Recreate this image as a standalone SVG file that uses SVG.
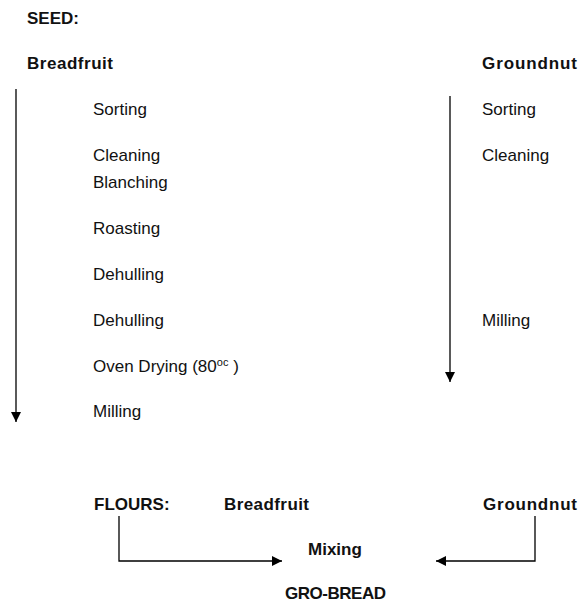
<svg xmlns="http://www.w3.org/2000/svg" width="588" height="602" viewBox="0 0 588 602">
<defs>
<marker id="ah" viewBox="0 0 10 10" refX="10" refY="5" markerWidth="10" markerHeight="10" markerUnits="userSpaceOnUse" orient="auto">
<path d="M0,0 L10,5 L0,10 Z" fill="#000"/>
</marker>
<style>
text{font-family:"Liberation Sans",Arial,sans-serif;font-size:17px;fill:#111}
.b{font-weight:bold}
.ln{stroke:#000;stroke-width:1.3;fill:none}
</style>
</defs>
<rect width="588" height="602" fill="#fff"/>
<g id="headers">
<text class="b" x="27" y="24">SEED:</text>
<text class="b" x="27" y="69" textLength="86">Breadfruit</text>
<text class="b" x="482" y="69" textLength="95">Groundnut</text>
</g>
<g id="breadfruit-steps">
<text x="93" y="115">Sorting</text>
<text x="93" y="161">Cleaning</text>
<text x="93" y="188">Blanching</text>
<text x="93" y="234">Roasting</text>
<text x="93" y="280">Dehulling</text>
<text x="93" y="326">Dehulling</text>
<text x="93" y="372">Oven Drying (80<tspan font-size="11" dy="-6">oc</tspan><tspan dy="6"> )</tspan></text>
<text x="93" y="417">Milling</text>
</g>
<g id="groundnut-steps">
<text x="482" y="115">Sorting</text>
<text x="482" y="161">Cleaning</text>
<text x="482" y="326">Milling</text>
</g>
<g id="flours">
<text class="b" x="94" y="510">FLOURS:</text>
<text class="b" x="224" y="510" textLength="85">Breadfruit</text>
<text class="b" x="483" y="510" textLength="94">Groundnut</text>
</g>
<g id="mixing"><text class="b" x="308" y="555">Mixing</text></g>
<g id="grobread"><text class="b" x="285" y="599" textLength="101">GRO-BREAD</text></g>
<g id="connectors">
<line class="ln" x1="16" y1="89" x2="16" y2="422" marker-end="url(#ah)"/>
<line class="ln" x1="450" y1="96" x2="450" y2="382" marker-end="url(#ah)"/>
<polyline class="ln" points="119,516 119,561 282,561" marker-end="url(#ah)"/>
<polyline class="ln" points="535,516 535,561 436,561" marker-end="url(#ah)"/>
</g>
</svg>
